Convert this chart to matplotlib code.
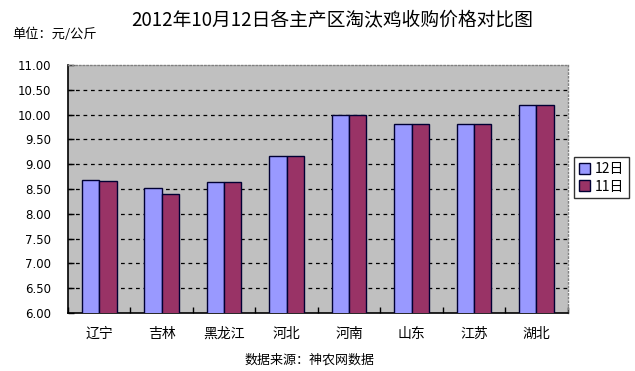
import matplotlib.pyplot as plt
import numpy as np

plt.rcParams['font.family'] = ['Noto Sans CJK SC', 'DejaVu Sans']

provinces = ['辽宁', '吉林', '黑龙江', '河北', '河南', '山东', '江苏', '湖北']
price_12 = [8.68, 8.52, 8.64, 9.16, 10.00, 9.80, 9.80, 10.20]
price_11 = [8.66, 8.40, 8.64, 9.16, 10.00, 9.80, 9.80, 10.20]
yticks = [6.0, 6.5, 7.0, 7.5, 8.0, 8.5, 9.0, 9.5, 10.0, 10.5, 11.0]

fig = plt.figure(figsize=(6.35, 3.71), dpi=100)
ax = fig.add_axes([0.107, 0.156, 0.787, 0.669])
ax.set_facecolor('#C0C0C0')

x = np.arange(len(provinces))
w = 0.278
ax.bar(x - w / 2, price_12, w, color='#9999FF', edgecolor='#000033',
       linewidth=1, label='12日', zorder=3)
ax.bar(x + w / 2, price_11, w, color='#993366', edgecolor='#000033',
       linewidth=1, label='11日', zorder=3)

ax.set_ylim(6, 11)
ax.set_xlim(-0.5, len(provinces) - 0.5)
ax.set_yticks(yticks)
ax.set_yticklabels([f'{v:.2f}' for v in yticks], fontsize=8.5, family='DejaVu Sans')
ax.set_xticks(x)
ax.set_xticklabels(provinces, fontsize=10)
ax.set_xticks(np.arange(len(provinces) + 1) - 0.5, minor=True)
ax.tick_params(axis='x', which='major', length=0, pad=10)
ax.tick_params(axis='x', which='minor', direction='in', length=4, width=1)
ax.tick_params(axis='y', direction='in', length=4, width=1, pad=12)

for v in yticks[1:-1]:
    ax.axhline(v, color='black', linestyle=(0, (3, 3)), linewidth=0.9, zorder=1)

for side in ['left', 'bottom']:
    ax.spines[side].set_color('black')
    ax.spines[side].set_linewidth(1.2)
for side in ['top', 'right']:
    ax.spines[side].set_color('#808080')
    ax.spines[side].set_linestyle(':')
    ax.spines[side].set_linewidth(1)

leg = ax.legend(loc='center left', bbox_to_anchor=(1.013, 0.545), fontsize=10,
                frameon=True, fancybox=False, edgecolor='black',
                handlelength=0.8, handleheight=0.8, handletextpad=0.3,
                borderpad=0.35, labelspacing=0.25, borderaxespad=0)
leg.get_frame().set_linewidth(1)

fig.text(0.523, 0.945, '2012年10月12日各主产区淘汰鸡收购价格对比图', ha='center',
         va='center', fontsize=13.5)
fig.text(0.019, 0.908, '单位：元/公斤', ha='left', va='center', fontsize=9.5)
fig.text(0.488, 0.030, '数据来源：神农网数据', ha='center', va='center', fontsize=9.4)

fig.savefig('out.png', dpi=100)
